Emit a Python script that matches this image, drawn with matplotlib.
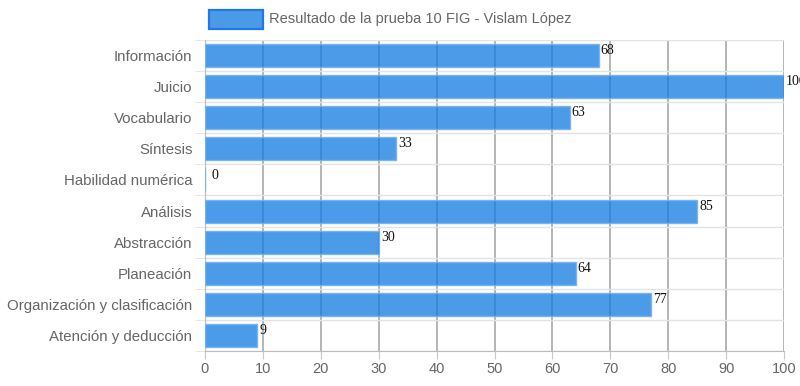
import numpy as np
import matplotlib.pyplot as plt
from matplotlib.patches import Rectangle

# datos
categorias = ["Información", "Juicio", "Vocabulario", "Síntesis", "Habilidad numérica",
              "Análisis", "Abstracción", "Planeación", "Organización y clasificación",
              "Atención y deducción"]
valores = [68, 100, 63, 33, 0, 85, 30, 64, 77, 9]
serie = "Resultado de la prueba 10 FIG - Vislam López"
x_ticks = list(range(0, 101, 10))

plt.rcParams['font.family'] = ['Liberation Sans', 'DejaVu Sans']

fig = plt.figure(figsize=(8, 3.86), dpi=100)
ax = fig.add_axes([205/800, 1-351/386, 579/800, 311/386])

pos = np.arange(len(categorias))
# relleno semitransparente: la rejilla se ve tenue a través de las barras
ax.barh(pos, valores, height=0.74, color=(14/255, 122/255, 226/255, 0.75),
        edgecolor=(0.45, 0.7, 0.95, 0.9), linewidth=1, zorder=3)

for p, v in zip(pos, valores):
    ax.annotate(str(v), (v, p), xytext=(1.5 if v else 4.5, 3.5), textcoords='offset points',
                ha='left', va='center', fontsize=10, color='#111111',
                family=['Liberation Serif', 'DejaVu Serif'], zorder=5,
                annotation_clip=False)

ax.set_xlim(0, 100)
ax.set_ylim(len(categorias) - 0.5, -0.5)
ax.set_xticks(x_ticks)
ax.set_yticks(pos)
ax.set_yticklabels(categorias)
ax.set_yticks(np.arange(-0.5, len(categorias), 1), minor=True)

ax.set_axisbelow(True)
ax.grid(axis='x', color='#a8a8a8', linewidth=1.2)
ax.grid(axis='y', which='minor', color='#e3e3e3', linewidth=1)

ax.tick_params(axis='x', length=6, color='#c8c8c8', labelsize=10.5,
               labelcolor='#666666', pad=2)
ax.tick_params(axis='y', which='major', length=0, labelsize=10.8,
               labelcolor='#666666', pad=9)
ax.tick_params(axis='y', which='minor', length=7, color='#e3e3e3')

for s in ['top', 'right']:
    ax.spines[s].set_visible(False)
for s in ['left', 'bottom']:
    ax.spines[s].set_color('#bdbdbd')

# leyenda
fig.patches.append(Rectangle((209/800, 1-29/386), 54/800, 19/386,
                             transform=fig.transFigure, facecolor='#4a9ae8',
                             edgecolor='#1f78e6', linewidth=1.6))
fig.text(269/800, 1-19.5/386, serie, ha='left', va='center',
         fontsize=10.5, color='#666666')

fig.savefig('out.png', dpi=100)
